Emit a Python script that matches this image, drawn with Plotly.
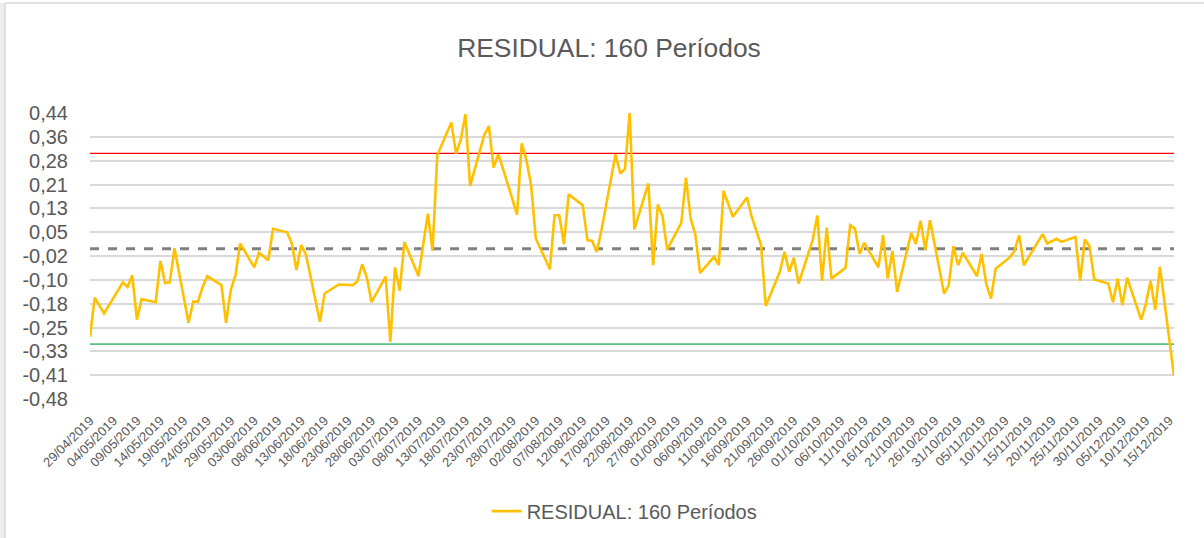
import plotly.graph_objects as go
import pandas as pd
import numpy as np

# ---------------- data ----------------
dates = [
    "2019-04-29", "2019-04-30", "2019-05-02", "2019-05-06", "2019-05-07", "2019-05-08", "2019-05-09", "2019-05-10",
    "2019-05-13", "2019-05-14", "2019-05-15", "2019-05-16", "2019-05-17", "2019-05-20", "2019-05-21", "2019-05-22",
    "2019-05-23", "2019-05-24", "2019-05-27", "2019-05-28", "2019-05-29", "2019-05-30", "2019-05-31", "2019-06-03",
    "2019-06-04", "2019-06-06", "2019-06-07", "2019-06-10", "2019-06-11", "2019-06-12", "2019-06-13", "2019-06-14",
    "2019-06-17", "2019-06-18", "2019-06-21", "2019-06-24", "2019-06-25", "2019-06-26", "2019-06-27", "2019-06-28",
    "2019-07-01", "2019-07-02", "2019-07-03", "2019-07-04", "2019-07-05", "2019-07-08", "2019-07-10", "2019-07-11",
    "2019-07-12", "2019-07-15", "2019-07-16", "2019-07-17", "2019-07-18", "2019-07-19", "2019-07-22", "2019-07-23",
    "2019-07-24", "2019-07-25", "2019-07-26", "2019-07-29", "2019-07-30", "2019-07-31", "2019-08-01", "2019-08-02",
    "2019-08-05", "2019-08-06", "2019-08-07", "2019-08-08", "2019-08-09", "2019-08-12", "2019-08-13", "2019-08-14",
    "2019-08-15", "2019-08-16", "2019-08-19", "2019-08-20", "2019-08-21", "2019-08-22", "2019-08-23", "2019-08-26",
    "2019-08-27", "2019-08-28", "2019-08-29", "2019-08-30", "2019-09-02", "2019-09-03", "2019-09-04", "2019-09-05",
    "2019-09-06", "2019-09-09", "2019-09-10", "2019-09-11", "2019-09-13", "2019-09-16", "2019-09-17", "2019-09-18",
    "2019-09-19", "2019-09-20", "2019-09-23", "2019-09-24", "2019-09-25", "2019-09-26", "2019-09-27", "2019-09-30",
    "2019-10-01", "2019-10-02", "2019-10-03", "2019-10-04", "2019-10-07", "2019-10-08", "2019-10-09", "2019-10-10",
    "2019-10-11", "2019-10-14", "2019-10-15", "2019-10-16", "2019-10-17", "2019-10-18", "2019-10-21", "2019-10-22",
    "2019-10-23", "2019-10-24", "2019-10-25", "2019-10-28", "2019-10-29", "2019-10-30", "2019-10-31", "2019-11-01",
    "2019-11-04", "2019-11-05", "2019-11-06", "2019-11-07", "2019-11-08", "2019-11-11", "2019-11-12", "2019-11-13",
    "2019-11-14", "2019-11-18", "2019-11-19", "2019-11-21", "2019-11-22", "2019-11-25", "2019-11-26", "2019-11-27",
    "2019-11-28", "2019-11-29", "2019-12-02", "2019-12-03", "2019-12-04", "2019-12-05", "2019-12-06", "2019-12-09",
    "2019-12-10", "2019-12-11", "2019-12-12", "2019-12-13", "2019-12-16",
]
residual = [
    -0.283, -0.157, -0.208, -0.108, -0.123, -0.085, -0.228, -0.162,
    -0.172, -0.039, -0.110, -0.108, 0.002, -0.238, -0.170, -0.170,
    -0.123, -0.088, -0.117, -0.238, -0.133, -0.085, 0.017, -0.060,
    -0.013, -0.037, 0.064, 0.053, 0.017, -0.068, 0.012, -0.018,
    -0.235, -0.144, -0.115, -0.117, -0.104, -0.050, -0.093, -0.172,
    -0.090, -0.300, -0.060, -0.135, 0.022, -0.088, 0.113, -0.007,
    0.301, 0.406, 0.306, 0.350, 0.433, 0.202, 0.365, 0.395,
    0.261, 0.304, 0.258, 0.110, 0.339, 0.285, 0.205, 0.033,
    -0.066, 0.108, 0.108, 0.015, 0.175, 0.140, 0.028, 0.025,
    -0.010, 0.060, 0.304, 0.242, 0.257, 0.437, 0.062, 0.210,
    -0.053, 0.142, 0.105, -0.003, 0.083, 0.229, 0.097, 0.046,
    -0.078, -0.026, -0.053, 0.186, 0.103, 0.165, 0.103, 0.054,
    0.012, -0.184, -0.074, -0.010, -0.074, -0.029, -0.112, 0.028,
    0.107, -0.103, 0.068, -0.096, -0.061, 0.076, 0.065, -0.016,
    0.019, -0.060, 0.044, -0.096, -0.007, -0.139, 0.051, 0.015,
    0.090, -0.003, 0.092, -0.144, -0.117, 0.008, -0.053, -0.013,
    -0.088, -0.017, -0.114, -0.160, -0.064, -0.028, -0.007, 0.044,
    -0.053, 0.047, 0.017, 0.032, 0.022, 0.038, -0.103, 0.030,
    0.008, -0.099, -0.112, -0.172, -0.096, -0.182, -0.093, -0.228,
    -0.178, -0.103, -0.196, -0.058, -0.409,
]

mean_line = 0.0
upper_limit = 0.307
lower_limit = -0.307

y_min = -0.4833
y_max = 0.4367
y_tick_labels = ["-0,48", "-0,41", "-0,33", "-0,25", "-0,18", "-0,10", "-0,02",
                 "0,05", "0,13", "0,21", "0,28", "0,36", "0,44"]
x_tick_dates = [d.strftime("%Y-%m-%d") for d in pd.date_range("2019-04-29", "2019-12-15", freq="5D")]
x_tick_labels = [d.strftime("%d/%m/%Y") for d in pd.date_range("2019-04-29", "2019-12-15", freq="5D")]

title_text = "RESIDUAL: 160 Períodos"

# ---------------- figure ----------------
TXT = "#595959"
FONT = "Liberation Sans, Arial, sans-serif"
W, H = 1204, 538
ML, MR, MT, MB = 90, 30, 113, 139.3
PW, PH = W - ML - MR, H - MT - MB


def px_x(px):
    return (px - ML) / PW


def px_y(py):
    return (H - MB - py) / PH


x_start, x_end = dates[0], dates[-1]

fig = go.Figure()
fig.add_trace(go.Scatter(x=[x_start, x_end], y=[upper_limit, upper_limit], mode="lines",
                         line=dict(color="#FF0000", width=1.3), showlegend=False, hoverinfo="skip"))
fig.add_trace(go.Scatter(x=[x_start, x_end], y=[lower_limit, lower_limit], mode="lines",
                         line=dict(color="#50C47F", width=1.8), showlegend=False, hoverinfo="skip"))
fig.add_trace(go.Scatter(x=[x_start, x_end], y=[mean_line, mean_line], mode="lines",
                         line=dict(color="#7F7F7F", width=3, dash="dash"), showlegend=False, hoverinfo="skip"))
fig.add_trace(go.Scatter(x=dates, y=residual, mode="lines", name=title_text,
                         line=dict(color="#FFC000", width=2.6)))

fig.update_layout(
    width=W, height=H, autosize=False,
    margin=dict(l=ML, r=MR, t=MT, b=MB, pad=0),
    paper_bgcolor="white", plot_bgcolor="white",
    font=dict(family=FONT, color=TXT),
    title=dict(text=title_text, x=0.5058, xref="container", xanchor="center",
               y=0.911, yref="container", yanchor="middle",
               font=dict(size=26.4, color=TXT, family=FONT)),
    legend=dict(orientation="h", x=0.4932, xanchor="center", y=0.05, yref="container", yanchor="middle",
                font=dict(size=20, color=TXT, family=FONT), bgcolor="rgba(0,0,0,0)"),
    shapes=[
        dict(type="rect", xref="paper", yref="paper", x0=px_x(0), x1=px_x(5), y0=px_y(H), y1=px_y(3),
             fillcolor="#EEEEEE", line=dict(width=0), layer="below"),
        dict(type="line", xref="paper", yref="paper", x0=px_x(5), x1=px_x(5), y0=px_y(H), y1=px_y(3),
             line=dict(color="#D9D9D9", width=1.5)),
        dict(type="line", xref="paper", yref="paper", x0=px_x(5), x1=px_x(W), y0=px_y(3), y1=px_y(3),
             line=dict(color="#D9D9D9", width=1.5)),
    ],
)

fig.update_xaxes(
    type="date", range=[x_start, x_end],
    tickmode="array", tickvals=x_tick_dates, ticktext=x_tick_labels, tickangle=-45,
    tickfont=dict(size=13, color=TXT, family=FONT),
    showgrid=False, zeroline=False, showline=False,
    ticks="outside", ticklen=8, tickcolor="rgba(0,0,0,0)",
)
fig.update_yaxes(
    range=[y_min, y_max],
    tickmode="array", tickvals=list(np.linspace(y_min, y_max, len(y_tick_labels))), ticktext=y_tick_labels,
    tickfont=dict(size=20, color=TXT, family=FONT),
    showgrid=True, gridcolor="#D9D9D9", gridwidth=1.5,
    zeroline=False, showline=False,
    ticks="outside", ticklen=17, tickcolor="rgba(0,0,0,0)",
)

fig.write_html("out.html", config={"displayModeBar": False},
               post_script="document.body.style.margin='0';")
